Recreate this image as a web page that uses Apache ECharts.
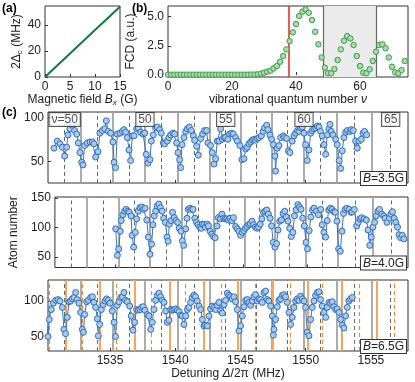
<!DOCTYPE html>
<html><head><meta charset="utf-8">
<script src="https://cdn.jsdelivr.net/npm/echarts@6/dist/echarts.min.js"></script>
<style>html,body{margin:0;padding:0;background:#fff}#c{width:415px;height:382px}</style>
</head><body><div id="c"></div>
<script>
// ---------- panel (a) ----------
const aField = [0, 5, 10, 15];
const aSplit = [0, 18, 36, 54];
// ---------- panel (b) ----------
const bV = [];
for (let i = 0; i <= 74; i++) bV.push(i);
const bFCD = [0.03,0.03,0.03,0.03,0.03,0.03,0.03,0.03,0.03,0.03,
  0.03,0.03,0.03,0.03,0.03,0.03,0.03,0.03,0.03,0.03,
  0.03,0.03,0.03,0.03,0.03,0.03,0.04,0.04,0.06,0.12,
  0.2,0.29,0.37,0.57,0.77,1.14,1.63,2.2,2.91,3.66,
  4.37,5.06,5.43,5.63,5.34,4.71,3.71,2.63,1.51,0.63,
  0.15,0.15,0.51,1.29,2.2,2.94,3.34,3.14,2.57,1.63,
  0.77,0.2,0.15,0.49,1.2,2.0,2.57,2.63,2.29,1.51,
  0.71,0.23,0.15,0.43,1.2];
const bRedLine = 37.6;
const bShade = [48.5, 65];
// ---------- panel (c) ----------
const c1X = [1530.71,1530.96,1531.17,1531.35,1531.53,1531.68,1531.78,1531.93,1532.11,1532.29,
1532.45,1532.57,1532.70,1532.83,1532.93,1533.06,1533.26,1533.47,1533.65,1533.77,
1533.90,1534.08,1534.23,1534.41,1534.59,1534.72,1534.87,1535.05,1535.23,1535.31,
1535.43,1535.56,1535.77,1535.95,1536.07,1536.20,1536.33,1536.46,1536.58,1536.71,
1536.84,1537.04,1537.17,1537.35,1537.53,1537.66,1537.78,1537.91,1538.07,1538.17,
1538.32,1538.50,1538.63,1538.81,1538.93,1539.09,1539.19,1539.39,1539.52,1539.65,
1539.83,1539.96,1540.11,1540.21,1540.34,1540.42,1540.52,1540.67,1540.80,1540.93,
1541.08,1541.23,1541.39,1541.49,1541.64,1541.77,1541.95,1542.10,1542.25,1542.41,
1542.51,1542.71,1542.84,1542.97,1543.10,1543.22,1543.35,1543.48,1543.61,1543.74,
1543.86,1544.04,1544.17,1544.32,1544.45,1544.63,1544.76,1544.96,1545.11,1545.27,
1545.40,1545.52,1545.65,1545.78,1545.91,1546.03,1546.16,1546.29,1546.42,1546.60,
1546.75,1546.85,1547.01,1547.11,1547.26,1547.39,1547.52,1547.64,1547.69,1547.82,
1547.95,1548.08,1548.28,1548.38,1548.54,1548.67,1548.79,1548.97,1549.10,1549.23,
1549.36,1549.48,1549.61,1549.74,1549.87,1549.99,1550.12,1550.25,1550.38,1550.50,
1550.63,1550.76,1550.89,1551.02,1551.14,1551.27,1551.40,1551.53,1551.65,1551.78,
1551.86,1551.96,1552.09,1552.29,1552.42,1552.57,1552.68,1552.80,1552.93,1553.06,
1553.19,1553.39,1553.49,1553.65,1553.83,1553.95,1554.08,1554.26,1554.39,1554.51,
1554.67];
const c1Y = [65,73,70,66,56,66,80,87,91,85,
81,71,60,49,46,68,71,72,72,70,
55,61,82,85,87,96,84,82,72,49,
43,81,82,84,86,83,77,63,51,79,
79,87,88,83,81,82,58,48,52,73,
80,88,89,86,82,71,70,73,77,80,
82,81,71,60,52,43,69,77,84,87,
89,85,79,74,67,57,76,81,85,85,
71,68,60,47,53,73,73,87,75,77,
77,75,81,82,81,77,73,68,52,53,
64,66,70,72,74,75,74,76,77,79,
84,88,91,86,80,75,69,56,39,65,
68,77,79,77,76,62,60,73,79,82,
85,84,88,89,82,69,51,63,82,85,
87,88,90,89,84,79,69,58,80,87,
92,84,80,75,69,51,42,62,77,83,
85,84,86,85,73,65,73,75,82,84,
80];
const c2X = [1535.00,1535.13,1535.23,1535.36,1535.43,1535.56,1535.69,1535.82,1535.95,1536.07,
1536.20,1536.28,1536.40,1536.53,1536.63,1536.76,1536.89,1537.04,1537.17,1537.30,
1537.43,1537.55,1537.68,1537.81,1537.91,1538.01,1538.12,1538.24,1538.37,1538.50,
1538.63,1538.75,1538.88,1539.01,1539.09,1539.19,1539.32,1539.44,1539.57,1539.70,
1539.83,1539.96,1540.11,1540.21,1540.31,1540.47,1540.57,1540.67,1540.80,1540.93,
1541.05,1541.18,1541.31,1541.44,1541.56,1541.69,1541.77,1541.90,1542.00,1542.15,
1542.25,1542.38,1542.51,1542.64,1542.77,1542.92,1543.02,1543.17,1543.30,1543.43,
1543.56,1543.68,1543.81,1543.94,1544.07,1544.20,1544.37,1544.50,1544.63,1544.76,
1544.89,1545.01,1545.14,1545.27,1545.40,1545.52,1545.65,1545.78,1545.91,1546.03,
1546.16,1546.29,1546.42,1546.55,1546.67,1546.80,1546.93,1547.06,1547.18,1547.31,
1547.44,1547.57,1547.69,1547.82,1547.95,1548.08,1548.21,1548.33,1548.46,1548.59,
1548.72,1548.84,1548.97,1549.10,1549.23,1549.36,1549.48,1549.61,1549.74,1549.87,
1549.99,1550.12,1550.25,1550.38,1550.50,1550.68,1550.84,1551.02,1551.14,1551.27,
1551.40,1551.53,1551.65,1551.78,1551.91,1552.04,1552.16,1552.29,1552.42,1552.55,
1552.68,1552.80,1552.93,1553.06,1553.24,1553.39,1553.49,1553.65,1553.83,1553.95,
1554.08,1554.21,1554.41,1554.59,1554.72,1554.85,1554.97,1555.10,1555.23,1555.36,
1555.49,1555.61,1555.79,1555.95,1556.05,1556.20,1556.38,1556.51,1556.63,1556.76,
1556.89,1557.02,1557.14,1557.27,1557.40,1557.53];
const c2Y = [98,53,64,94,112,122,128,131,128,126,
120,87,67,92,115,128,134,135,131,133,
113,84,55,72,105,120,128,137,140,134,
128,116,109,84,77,106,112,126,117,112,
109,99,94,78,70,98,116,131,133,131,
131,116,109,105,101,99,106,105,101,106,
103,94,89,85,83,103,117,115,123,116,
115,115,113,116,112,117,102,98,94,87,
92,95,99,102,105,107,111,105,101,99,
101,106,115,126,128,130,123,116,103,75,
67,73,96,111,113,124,128,118,111,99,
85,92,120,130,139,135,131,116,103,75,
64,95,118,130,133,128,122,131,105,92,
84,112,130,133,131,127,126,111,64,60,
94,124,131,133,131,126,127,131,103,109,
115,117,115,113,96,70,84,101,109,120,
128,131,123,120,116,109,116,123,127,116,
109,101,88,83,87,81];
const c3X = [1530.02,1530.15,1530.25,1530.35,1530.50,1530.66,1530.84,1531.02,1531.17,1531.35,
1531.47,1531.60,1531.73,1531.86,1531.99,1532.11,1532.24,1532.37,1532.50,1532.62,
1532.75,1532.88,1532.96,1533.06,1533.21,1533.34,1533.52,1533.65,1533.77,1533.90,
1534.03,1534.11,1534.21,1534.34,1534.49,1534.62,1534.74,1534.87,1535.00,1535.18,
1535.31,1535.43,1535.56,1535.69,1535.82,1535.95,1536.07,1536.20,1536.33,1536.51,
1536.63,1536.76,1536.89,1537.04,1537.17,1537.30,1537.43,1537.55,1537.68,1537.86,
1537.99,1538.12,1538.24,1538.37,1538.50,1538.63,1538.75,1538.88,1539.01,1539.14,
1539.27,1539.39,1539.52,1539.65,1539.78,1539.90,1540.03,1540.16,1540.29,1540.42,
1540.54,1540.67,1540.80,1540.93,1541.05,1541.18,1541.31,1541.44,1541.56,1541.69,
1541.82,1541.95,1542.08,1542.20,1542.33,1542.46,1542.59,1542.71,1542.84,1542.97,
1543.10,1543.22,1543.35,1543.48,1543.61,1543.74,1543.86,1543.99,1544.12,1544.25,
1544.37,1544.50,1544.63,1544.76,1544.89,1545.01,1545.14,1545.27,1545.40,1545.52,
1545.65,1545.78,1545.91,1546.03,1546.16,1546.29,1546.42,1546.55,1546.67,1546.80,
1546.93,1547.06,1547.18,1547.31,1547.44,1547.52,1547.57,1547.69,1547.82,1547.95,
1548.08,1548.21,1548.33,1548.46,1548.59,1548.72,1548.84,1548.97,1549.10,1549.23,
1549.36,1549.48,1549.61,1549.74,1549.87,1549.99,1550.12,1550.25,1550.38,1550.50,
1550.63,1550.76,1550.89,1551.02,1551.14,1551.27,1551.40,1551.53,1551.65,1551.78,
1551.91,1552.04,1552.16,1552.29,1552.42,1552.55,1552.68,1552.80,1552.93,1553.06,
1553.19,1553.31,1553.44,1553.57];
const c3Y = [93,67,50,74,88,97,101,102,100,91,
60,54,77,99,100,103,105,112,102,97,
84,60,56,81,99,101,105,106,98,91,
75,51,67,88,95,100,103,101,97,86,
70,50,94,99,105,106,112,101,99,93,
79,59,70,88,87,88,91,92,87,81,
79,60,70,88,101,108,111,106,101,98,
86,70,73,88,87,88,89,87,85,80,
79,67,79,88,91,98,105,108,106,100,
93,88,74,65,66,65,79,89,93,91,
88,94,98,86,83,95,101,111,108,106,
103,106,99,88,58,65,79,92,101,102,
98,94,100,106,109,100,103,102,98,112,
114,102,100,93,79,52,60,74,92,101,
103,108,109,106,98,84,67,77,91,100,
103,101,107,103,100,91,56,51,74,91,
100,108,112,113,102,93,84,77,91,98,
97,99,92,88,89,84,74,66,62,79,
91,100,103,105];
const graySolid = [1532.75,1535.25,1537.68,1540.16,1542.64,1545.06,1547.39,1549.87,1552.37,1555.10];
const grayDashed = [1531.53,1534.03,1536.46,1538.93,1541.44,1543.87,1546.24,1548.59,1551.15,1553.70,1556.51];
const orangeSolid = [1531.61,1534.23,1536.89,1539.60,1542.20,1544.83,1547.51,1550.12,1552.80,1555.48];
const orangeDashed = [1530.32,1532.87,1535.51,1538.16,1540.80,1543.53,1546.16,1548.85,1551.27,1554.08,1556.82];
const vLabelPos = [1531.53,1537.68,1543.87,1549.87,1556.51];
const vLabelText = ['ν=50','50','55','60','65'];
const fieldLabels = ['3.5G','4.0G','6.5G'];
const detTicks = [1535,1540,1545,1550,1555];

const FONT = '"Liberation Sans", Arial, Helvetica, sans-serif';
const FRAME = '#333';
const TXT = '#222';

function pairs(xs, ys){ const n=Math.min(xs.length, ys.length); const o=[]; for(let i=0;i<n;i++) o.push([xs[i], ys[i]]); return o; }

function axis(gi, min, max, ticks, showLabels, extra, fmt){
  return Object.assign({
    type:'value', gridIndex:gi, min:min, max:max,
    axisLine:{show:false}, splitLine:{show:false},
    axisTick:{show:true, inside:true, length:3, lineStyle:{color:FRAME, width:1}, customValues:ticks},
    axisLabel:{show:showLabels, customValues:ticks, color:TXT, fontSize:12, fontFamily:FONT, margin:4,
      formatter: fmt || (v => String(v))},
    nameTextStyle:{color:TXT, fontSize:12, fontFamily:FONT}
  }, extra||{});
}
const gridBase = {show:true, borderColor:FRAME, borderWidth:1, backgroundColor:'transparent'};

const cXMin = 1530.25, cXMax = 1557.84;
function vlines(list, style){ return list.map(v => ({xAxis:v, lineStyle:style})); }
const sGray = {color:'#a3a3a3', width:1.8, type:'solid'};
const sGrayD = {color:'#6a6a6a', width:1, type:[4,3]};
const sOr = {color:'#f7a55e', width:2, type:'solid'};
const sOrD = {color:'#ee8a2c', width:1.2, type:[4,3]};
function markSeries(xi, lines){
  return {type:'line', xAxisIndex:xi, yAxisIndex:xi, data:[], z:1, silent:true,
    markLine:{silent:true, symbol:['none','none'], animation:false, label:{show:false}, data:lines}};
}
function dataSeries(xi, xs, ys){
  return {type:'line', xAxisIndex:xi, yAxisIndex:xi, data:pairs(xs, ys), z:5,
    symbol:'circle', symbolSize:6, showSymbol:true, showAllSymbol:true,
    itemStyle:{color:'#a8c9ee', borderColor:'#2f6eb7', borderWidth:1},
    lineStyle:{color:'#3877c0', width:1}, silent:true};
}
const grayLines = vlines(graySolid, sGray).concat(vlines(grayDashed, sGrayD));
const allLines3 = grayLines.concat(vlines(orangeSolid, sOr), vlines(orangeDashed, sOrD));

const option = {
  animation:false,
  textStyle:{fontFamily:FONT},
  grid:[
    Object.assign({left:45, top:6, width:75, height:71}, gridBase),
    Object.assign({left:168, top:6, width:240, height:71}, gridBase),
    Object.assign({left:48, top:112, width:360, height:71}, gridBase),
    Object.assign({left:48, top:197, width:360, height:70.5}, gridBase),
    Object.assign({left:48, top:280, width:360, height:71}, gridBase)
  ],
  xAxis:[
    axis(0, 0, 15, [0,5,10,15], true, {name:'Magnetic field {i|B}{s|x} (G)', nameLocation:'middle', nameGap:14,
      nameTextStyle:{color:TXT, fontSize:12, fontFamily:FONT, rich:{i:{fontStyle:'italic', fontSize:12, color:TXT}, s:{fontStyle:'italic', fontSize:8, color:TXT, padding:[6,0,0,0]}}}}),
    axis(1, 0, 75, [0,20,40,60], true, {name:'vibrational quantum number {i|ν}', nameLocation:'middle', nameGap:14,
      nameTextStyle:{color:TXT, fontSize:12, fontFamily:FONT, rich:{i:{fontStyle:'italic', fontSize:12, color:TXT}}}}),
    axis(2, cXMin, cXMax, detTicks, false),
    axis(3, cXMin, cXMax, detTicks, false),
    axis(4, cXMin, cXMax, detTicks, true, {name:'Detuning {i|Δ}/2π (MHz)', nameLocation:'middle', nameGap:16,
      nameTextStyle:{color:TXT, fontSize:12, fontFamily:FONT, rich:{i:{fontStyle:'italic', fontSize:12, color:TXT}}}})
  ],
  yAxis:[
    axis(0, 0, 54.5, [0,20,40], true, {name:'2Δ{s|c} (MHz)', nameLocation:'middle', nameGap:20,
      nameTextStyle:{color:TXT, fontSize:12, fontFamily:FONT, rich:{s:{fontSize:8, color:TXT, padding:[6,0,0,0]}}}}),
    axis(1, -0.17, 5.92, [0,2.5,5], true, {name:'FCD (a.u.)', nameLocation:'middle', nameGap:22}, v => v.toFixed(1)),
    axis(2, 25.5, 106, [50,100], true),
    axis(3, 32.5, 152, [50,100,150], true, {name:'Atom number', nameLocation:'middle', nameGap:30}),
    axis(4, 29.6, 129.6, [50,100], true)
  ],
  series:[
    {type:'line', xAxisIndex:0, yAxisIndex:0, data:pairs(aField, aSplit), symbol:'none',
      lineStyle:{color:'#137a3a', width:2}, silent:true},
    {type:'scatter', xAxisIndex:1, yAxisIndex:1, data:[], z:1, silent:true,
      markArea:{silent:true, itemStyle:{color:'#ebebeb'}, data:[[{xAxis:bShade[0]},{xAxis:bShade[1]}]]},
      markLine:{silent:true, symbol:['none','none'], label:{show:false}, animation:false,
        data:[{xAxis:bRedLine, lineStyle:{color:'#e5251f', width:1.5, type:'solid'}},
              {xAxis:bShade[0], lineStyle:{color:'#666', width:1.2, type:'solid'}},
              {xAxis:bShade[1], lineStyle:{color:'#666', width:1.2, type:'solid'}}]}},
    {type:'scatter', xAxisIndex:1, yAxisIndex:1, data:pairs(bV, bFCD), z:5, symbolSize:5.5, silent:true,
      itemStyle:{color:'#a9dca8', borderColor:'#3c9a4d', borderWidth:1, opacity:1}},
    markSeries(2, grayLines),
    markSeries(3, grayLines),
    markSeries(4, allLines3),
    dataSeries(2, c1X, c1Y),
    dataSeries(3, c2X, c2Y),
    dataSeries(4, c3X, c3Y),
    {type:'scatter', xAxisIndex:2, yAxisIndex:2, data:vLabelPos.map(v => [v, 106]), symbolSize:0, z:8, silent:true,
      label:{show:true, position:'bottom', distance:1, formatter:p => vLabelText[p.dataIndex],
        color:TXT, fontSize:12, fontFamily:FONT, backgroundColor:'#fff', borderColor:FRAME, borderWidth:1, padding:[1,2,0,2]}}
  ],
  graphic:[
    {type:'text', left:2, top:3, style:{text:'(a)', font:'bold 12px '+FONT, fill:'#000'}},
    {type:'text', left:132, top:3, style:{text:'(b)', font:'bold 12px '+FONT, fill:'#000'}},
    {type:'text', left:2, top:107, style:{text:'(c)', font:'bold 12px '+FONT, fill:'#000'}}
  ].concat(fieldLabels.map((t, i) => ({
    type:'text', right:8, top:[171, 255.5, 339][i], z:10,
    style:{text:'{i|B}=' + t, font:'12px '+FONT, fill:TXT, backgroundColor:'#fff', borderColor:FRAME, borderWidth:1, padding:[1,2,0,2],
      rich:{i:{fontStyle:'italic', fontSize:12, fontFamily:FONT, fill:TXT}}}
  })))
};
const chart = echarts.init(document.getElementById('c'), null, {renderer:'canvas'});
chart.setOption(option);
</script></body></html>
